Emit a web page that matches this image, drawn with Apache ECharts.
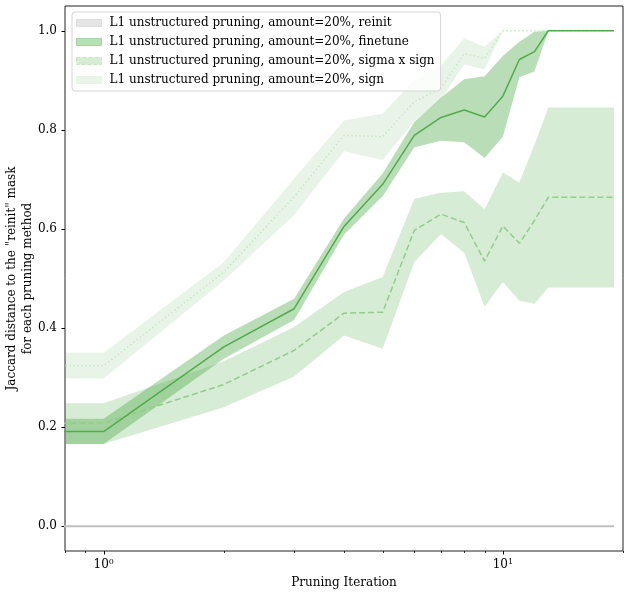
<!DOCTYPE html>
<html>
<head>
<meta charset="utf-8">
<script src="https://cdn.jsdelivr.net/npm/echarts@6/dist/echarts.min.js"></script>
<style>html,body{margin:0;padding:0;background:#fff}#c{width:630px;height:597px}</style>
</head>
<body>
<div id="c"></div>
<script>
// ---- data ----
const iterations = [0,1,2,3,4,5,6,7,8,9,10,11,12,13,14,15,16,17,18,19];

const reinitMean  = [0,0,0,0,0,0,0,0,0,0,0,0,0,0,0,0,0,0,0,0];
const reinitUpper = [0,0,0,0,0,0,0,0,0,0,0,0,0,0,0,0,0,0,0,0];
const reinitLower = [0,0,0,0,0,0,0,0,0,0,0,0,0,0,0,0,0,0,0,0];

const finetuneMean  = [0.191,0.191,0.362,0.439,0.605,0.690,0.789,0.825,0.840,0.826,0.868,0.942,0.958,1,1,1,1,1,1,1];
const finetuneUpper = [0.217,0.217,0.385,0.459,0.621,0.712,0.816,0.865,0.902,0.908,0.949,0.978,0.998,1,1,1,1,1,1,1];
const finetuneLower = [0.166,0.166,0.338,0.416,0.589,0.666,0.765,0.778,0.775,0.743,0.786,0.906,0.918,1,1,1,1,1,1,1];

const sigmaMean  = [0.208,0.208,0.286,0.355,0.430,0.432,0.597,0.630,0.613,0.535,0.606,0.571,0.617,0.664,0.664,0.664,0.664,0.664,0.664,0.664];
const sigmaUpper = [0.248,0.248,0.333,0.402,0.473,0.503,0.661,0.673,0.676,0.640,0.714,0.694,0.770,0.845,0.845,0.845,0.845,0.845,0.845,0.845];
const sigmaLower = [0.166,0.166,0.240,0.302,0.385,0.358,0.533,0.590,0.552,0.443,0.493,0.455,0.449,0.482,0.482,0.482,0.482,0.482,0.482,0.482];

const signMean  = [0.324,0.324,0.513,0.665,0.789,0.786,0.857,0.884,0.954,0.944,1,1,1,1,1,1,1,1,1,1];
const signUpper = [0.350,0.350,0.533,0.702,0.819,0.833,0.900,0.930,0.985,0.968,1,1,1,1,1,1,1,1,1,1];
const signLower = [0.298,0.298,0.496,0.628,0.757,0.739,0.818,0.862,0.932,0.922,1,1,1,1,1,1,1,1,1,1];

const seriesNames = [
  'L1 unstructured pruning, amount=20%, reinit',
  'L1 unstructured pruning, amount=20%, finetune',
  'L1 unstructured pruning, amount=20%, sigma x sign',
  'L1 unstructured pruning, amount=20%, sign'
];
const yTickValues = [0, 0.2, 0.4, 0.6, 0.8, 1.0];
const xMajorTicks = [1, 10];
const xMinorTicks = [0.8, 0.9, 2, 3, 4, 5, 6, 7, 8, 9, 20];

// ---- helpers ----
const FONT = 'DejaVu Serif';
const CLIP_X = 0.01; // iteration 0 is non-positive on a log axis: clipped off the left edge like matplotlib
function xOf(i){ return iterations[i] <= 0 ? CLIP_X : iterations[i]; }
function pts(arr){ return arr.map((v,i)=>[xOf(i), v]); }

function bandSeries(name, lower, upper, color, z){
  const rows = lower.map((l,i)=>[xOf(i), l, upper[i]]);
  return {
    type: 'custom', name: name, data: rows, clip: true, silent: true, z: z,
    encode: {x: 0, y: [1, 2]},
    itemStyle: {color: color},
    renderItem: function(params, api){
      if (params.dataIndex !== 0) return null;
      const poly = [];
      for (let i = 0; i < rows.length; i++) poly.push(api.coord([rows[i][0], rows[i][2]]));
      for (let i = rows.length - 1; i >= 0; i--) poly.push(api.coord([rows[i][0], rows[i][1]]));
      return {type: 'polygon', shape: {points: poly}, style: {fill: color, stroke: null}};
    }
  };
}
function meanSeries(name, data, color, width, type, z){
  return {type:'line', name:name, data: pts(data), symbol:'none', z: z,
          lineStyle:{color:color, width:width, type:type}, itemStyle:{color:color}, silent:true};
}

const series = [
  bandSeries(seriesNames[0], reinitLower, reinitUpper, 'rgba(150,150,150,0.25)', 1),
  bandSeries(seriesNames[1], finetuneLower, finetuneUpper, 'rgba(80,172,74,0.4)', 1),
  bandSeries(seriesNames[2], sigmaLower, sigmaUpper, 'rgba(80,172,74,0.23)', 1),
  bandSeries(seriesNames[3], signLower, signUpper, 'rgba(80,172,74,0.13)', 1),
  meanSeries(seriesNames[0], reinitMean, 'rgb(192,192,192)', 2, 'solid', 3),
  meanSeries(seriesNames[2], sigmaMean, 'rgb(145,205,140)', 1.5, [6,3], 3),
  meanSeries(seriesNames[3], signMean, 'rgb(198,230,195)', 1.5, [1.5,2.5], 3),
  meanSeries(seriesNames[1], finetuneMean, 'rgb(80,172,74)', 1.5, 'solid', 4)
];

const chart = echarts.init(document.getElementById('c'), null, {renderer:'canvas'});
const txt = {fontFamily: FONT, fontSize: 12, color: '#000'};

chart.setOption({
  animation: false,
  backgroundColor: '#fff',
  grid: {left: 65, right: 7, top: 6, bottom: 46, outerBoundsMode: 'none', containLabel: false,
         show: true, borderColor: '#222', borderWidth: 1, backgroundColor: 'transparent'},
  legend: {
    orient: 'vertical', left: 72, top: 12, padding: [4, 6, 4, 4],
    itemWidth: 25, itemHeight: 7, itemGap: 5, z: 10,
    backgroundColor: 'rgba(255,255,255,0.8)', borderColor: '#d5d5d5', borderWidth: 1, borderRadius: 3,
    textStyle: Object.assign({lineHeight: 14, padding: [0,0,0,3]}, txt),
    data: [
      {name: seriesNames[0], icon: 'rect', itemStyle: {color: 'rgb(229,229,229)', borderColor: 'rgb(222,222,222)', borderWidth: 1}},
      {name: seriesNames[1], icon: 'rect', itemStyle: {color: 'rgb(185,224,181)', borderColor: 'rgb(165,214,160)', borderWidth: 1}},
      {name: seriesNames[2], icon: 'rect', itemStyle: {color: 'rgb(214,237,211)', borderColor: 'rgb(196,229,192)', borderWidth: 1, borderType: 'dashed'}},
      {name: seriesNames[3], icon: 'rect', itemStyle: {color: 'rgb(233,245,231)', borderColor: 'rgb(220,239,218)', borderWidth: 1, borderType: 'dotted'}}
    ]
  },
  xAxis: {
    type: 'log', logBase: 10, min: 0.8, max: 20,
    name: 'Pruning Iteration', nameLocation: 'middle', nameGap: 26, nameMoveOverlap: false,
    nameTextStyle: txt,
    axisLine: {show: false}, axisTick: {show: false}, splitLine: {show: false}, minorTick: {show: false},
    axisLabel: {
      margin: 7, showMinLabel: true, showMaxLabel: true,
      formatter: function(v){
        const l = Math.log10(v); const r = Math.round(l);
        if (Math.abs(l - r) < 1e-6 && xMajorTicks.indexOf(Math.pow(10, r)) >= 0) return '{b|10}{s|' + r + '}';
        return '';
      },
      rich: {
        b: {fontFamily: FONT, fontSize: 12, color: '#000', lineHeight: 14},
        s: {fontFamily: FONT, fontSize: 8, color: '#000', lineHeight: 8, verticalAlign: 'top'}
      }
    }
  },
  yAxis: {
    type: 'value', min: -0.05, max: 1.05,
    name: 'Jaccard distance to the "reinit" mask\nfor each pruning method',
    nameLocation: 'middle', nameGap: 29, nameRotate: 90, nameMoveOverlap: false,
    nameTextStyle: Object.assign({lineHeight: 16}, txt),
    axisLine: {show: false}, splitLine: {show: false},
    axisTick: {show: true, length: 3.5, customValues: yTickValues, lineStyle: {color: '#000', width: 1}},
    axisLabel: Object.assign({margin: 8, customValues: yTickValues, formatter: v => v.toFixed(1)}, txt)
  },
  series: series
});

// x ticks (major and minor) placed through the axis scale
function drawXTicks(){
  const yb = chart.convertToPixel({yAxisIndex: 0}, -0.05);
  const els = [];
  xMajorTicks.forEach(v => {
    const x = Math.round(chart.convertToPixel({xAxisIndex: 0}, v)) + 0.5;
    els.push({type: 'line', silent: true, shape: {x1: x, y1: yb, x2: x, y2: yb + 3.5}, style: {stroke: '#000', lineWidth: 1}});
  });
  xMinorTicks.forEach(v => {
    const x = Math.round(chart.convertToPixel({xAxisIndex: 0}, v)) + 0.5;
    els.push({type: 'line', silent: true, shape: {x1: x, y1: yb, x2: x, y2: yb + 2}, style: {stroke: '#000', lineWidth: 0.8}});
  });
  chart.setOption({graphic: els});
}
drawXTicks();
</script>
</body>
</html>
